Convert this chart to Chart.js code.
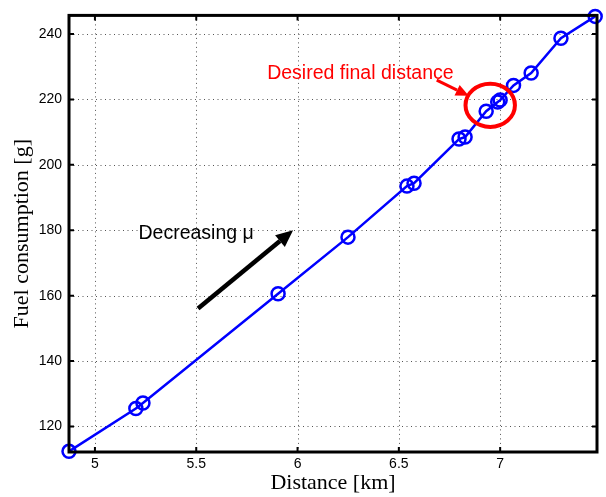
<!DOCTYPE html>
<html>
<head>
<meta charset="utf-8">
<script src="https://cdn.jsdelivr.net/npm/chart.js@4.4.1/dist/chart.umd.min.js"></script>
<style>
  html, body { margin: 0; padding: 0; background: #fff; }
  #wrap { width: 606px; height: 497px; position: relative; }
</style>
</head>
<body>
<div id="wrap"><canvas id="fuelChart"></canvas></div>
<script>
const distance = [4.872, 5.202, 5.237, 5.904, 6.249, 6.540, 6.575, 6.797, 6.827, 6.931, 6.988, 7.000, 7.066, 7.153, 7.300, 7.469];
const fuel = [112.4, 125.5, 127.2, 160.6, 177.9, 193.5, 194.4, 207.9, 208.5, 216.4, 219.2, 219.8, 224.3, 228.1, 238.7, 245.4];
const xTicks = [5, 5.5, 6, 6.5, 7];
const yTicks = [120, 140, 160, 180, 200, 220, 240];
const xRange = [4.872, 7.478];
const yRange = [112.2, 245.7];

// annotations, in data units
const muText = { text: 'Decreasing \u03bc', x: 5.215, y: 178.9 };
const muArrow = { from: [5.509, 156.1], to: [5.978, 180.0] };
const finalText = { text: 'Desired final distance', x: 5.85, y: 227.8 };
const finalArrow = { from: [6.687, 225.9], to: [6.845, 221.1] };
const finalRing = { x: 6.951, y: 218.2, rx: 0.122, ry: 6.6 };

const points = distance.map((d, i) => ({ x: d, y: fuel[i] }));

function arrow(ctx, x1, y1, x2, y2, color, width, head) {
  const a = Math.atan2(y2 - y1, x2 - x1);
  const bx = x2 - head * Math.cos(a), by = y2 - head * Math.sin(a);
  ctx.strokeStyle = color;
  ctx.fillStyle = color;
  ctx.lineWidth = width;
  ctx.beginPath();
  ctx.moveTo(x1, y1);
  ctx.lineTo(bx, by);
  ctx.stroke();
  ctx.beginPath();
  ctx.moveTo(x2, y2);
  ctx.lineTo(bx + head * 0.45 * Math.sin(a), by - head * 0.45 * Math.cos(a));
  ctx.lineTo(bx - head * 0.45 * Math.sin(a), by + head * 0.45 * Math.cos(a));
  ctx.closePath();
  ctx.fill();
}

const matlabBox = {
  id: 'matlabBox',
  beforeDatasetsDraw(chart) {
    // dotted grid
    const { ctx, chartArea: ca, scales: { x, y } } = chart;
    ctx.save();
    ctx.strokeStyle = '#555';
    ctx.lineWidth = 1;
    ctx.setLineDash([1, 3.5]);
    ctx.beginPath();
    xTicks.forEach(v => {
      const px = Math.round(x.getPixelForValue(v)) + 0.5;
      ctx.moveTo(px, ca.top); ctx.lineTo(px, ca.bottom);
    });
    yTicks.forEach(v => {
      const py = Math.round(y.getPixelForValue(v)) + 0.5;
      ctx.moveTo(ca.left, py); ctx.lineTo(ca.right, py);
    });
    ctx.stroke();
    ctx.restore();
  },
  afterDatasetsDraw(chart) {
    const { ctx, chartArea: ca, scales: { x, y } } = chart;
    ctx.save();
    // inward ticks
    ctx.strokeStyle = '#000';
    ctx.lineWidth = 2;
    ctx.beginPath();
    xTicks.forEach(v => {
      const px = x.getPixelForValue(v);
      ctx.moveTo(px, ca.bottom); ctx.lineTo(px, ca.bottom - 5);
      ctx.moveTo(px, ca.top); ctx.lineTo(px, ca.top + 5);
    });
    yTicks.forEach(v => {
      const py = y.getPixelForValue(v);
      ctx.moveTo(ca.left, py); ctx.lineTo(ca.left + 5, py);
      ctx.moveTo(ca.right, py); ctx.lineTo(ca.right - 5, py);
    });
    ctx.stroke();
    ctx.lineWidth = 3;
    ctx.strokeRect(ca.left, ca.top, ca.right - ca.left, ca.bottom - ca.top);

    // annotations
    ctx.font = '19.5px "Liberation Sans", Arial, sans-serif';
    ctx.textBaseline = 'middle';
    ctx.textAlign = 'left';
    ctx.fillStyle = '#000';
    ctx.fillText(muText.text, x.getPixelForValue(muText.x), y.getPixelForValue(muText.y));
    arrow(ctx,
      x.getPixelForValue(muArrow.from[0]), y.getPixelForValue(muArrow.from[1]),
      x.getPixelForValue(muArrow.to[0]), y.getPixelForValue(muArrow.to[1]),
      '#000', 4.5, 17);

    ctx.fillStyle = '#ff0000';
    ctx.fillText(finalText.text, x.getPixelForValue(finalText.x), y.getPixelForValue(finalText.y));
    arrow(ctx,
      x.getPixelForValue(finalArrow.from[0]), y.getPixelForValue(finalArrow.from[1]),
      x.getPixelForValue(finalArrow.to[0]), y.getPixelForValue(finalArrow.to[1]),
      '#ff0000', 3, 13);
    const cx = x.getPixelForValue(finalRing.x), cy = y.getPixelForValue(finalRing.y);
    const rx = Math.abs(x.getPixelForValue(finalRing.x + finalRing.rx) - cx);
    const ry = Math.abs(y.getPixelForValue(finalRing.y + finalRing.ry) - cy);
    ctx.strokeStyle = '#ff0000';
    ctx.lineWidth = 4;
    ctx.beginPath();
    ctx.ellipse(cx, cy, rx, ry, 0, 0, Math.PI * 2);
    ctx.stroke();
    ctx.restore();
  }
};

const tickFont = { family: '"Liberation Sans", Arial, sans-serif', size: 14 };
const titleFont = { family: '"Liberation Serif", "Times New Roman", serif', size: 22 };

const config = {
  type: 'scatter',
  data: {
    datasets: [{
      data: points,
      showLine: true,
      borderColor: '#0000ff',
      backgroundColor: 'rgba(0,0,0,0)',
      borderWidth: 2.5,
      pointRadius: 6.5,
      pointBorderWidth: 2.5,
      pointBorderColor: '#0000ff',
      pointBackgroundColor: 'rgba(0,0,0,0)',
      clip: false
    }]
  },
  options: {
    responsive: true,
    maintainAspectRatio: false,
    animation: false,
    layout: { padding: { left: 0, top: 12, right: 9, bottom: 0 } },
    plugins: { legend: { display: false }, tooltip: { enabled: false } },
    scales: {
      x: {
        type: 'linear',
        min: xRange[0],
        max: xRange[1],
        afterBuildTicks: s => { s.ticks = xTicks.map(v => ({ value: v })); },
        afterFit: s => { s.height = 45; },
        grid: { display: false, drawTicks: false },
        border: { display: false },
        ticks: {
          padding: 4,
          color: '#000',
          maxRotation: 0,
          font: tickFont,
          callback: v => String(v)
        },
        title: {
          display: true,
          text: 'Distance [km]',
          color: '#000',
          font: titleFont,
          padding: { top: 0, bottom: 1 }
        }
      },
      y: {
        type: 'linear',
        min: yRange[0],
        max: yRange[1],
        afterBuildTicks: s => { s.ticks = yTicks.map(v => ({ value: v })); },
        afterFit: s => { s.width = 69; },
        grid: { display: false, drawTicks: false },
        border: { display: false },
        ticks: {
          padding: 7,
          color: '#000',
          font: tickFont,
          callback: v => String(v)
        },
        title: {
          display: true,
          text: 'Fuel consumption [g]',
          color: '#000',
          font: titleFont,
          padding: { top: 9, bottom: 0 }
        }
      }
    }
  },
  plugins: [matlabBox]
};

const fuelChart = new Chart(document.getElementById('fuelChart'), config);
</script>
</body>
</html>
